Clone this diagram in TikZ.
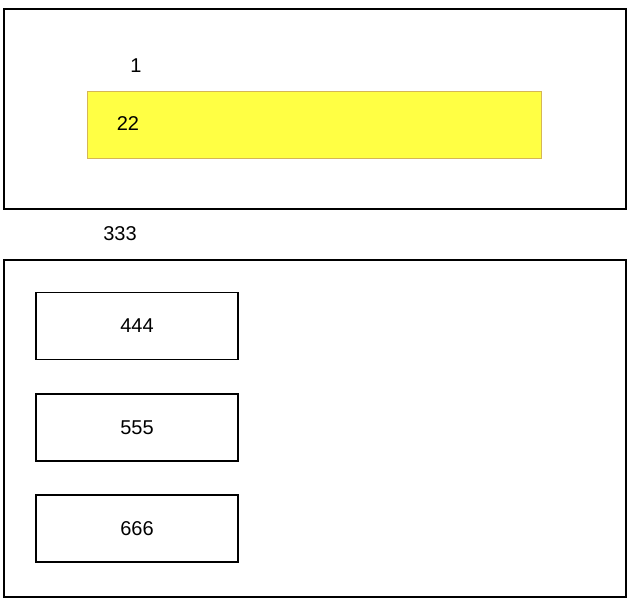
\documentclass[tikz,border=0pt]{standalone}
\usepackage{fontspec}
\setmainfont{Liberation Sans}
\definecolor{boxyellow}{RGB}{255,255,68}
\definecolor{boxtan}{RGB}{214,182,86}

\begin{document}
\begin{tikzpicture}
[x=1pt,y=-1pt,every node/.style={font=\fontsize{20}{22}\selectfont,inner sep=0pt}]
\tikzset{frame/.style = {draw,line width=1.5pt,anchor=north west}}
\tikzset{item/.style = {draw,line width=1.5pt,minimum width=202pt,minimum height=67pt}}
\useasboundingbox (0,0) rectangle (630,603);
  % top part
  \node[frame,minimum width=622pt,minimum height=200pt] (top) at (3,8){};
  \node (one) at (136,66){1};
  \node[draw=boxtan,fill=boxyellow,line width=1.2pt,anchor=north west,
        minimum width=454pt,minimum height=67pt] (bar) at (87,91){};
  \node (two) at (128,124){22};
  % bottom part
  \node (three) at (120,234){333};
  \node[frame,minimum width=622pt,minimum height=337pt] (bottom) at (3,259){};
  \node[item] (four) at (137,326){444};
  \node[item] (five) at (137,427.5){555};
  \node[item] (six) at (137,528.5){666};
\end{tikzpicture}
\end{document}
